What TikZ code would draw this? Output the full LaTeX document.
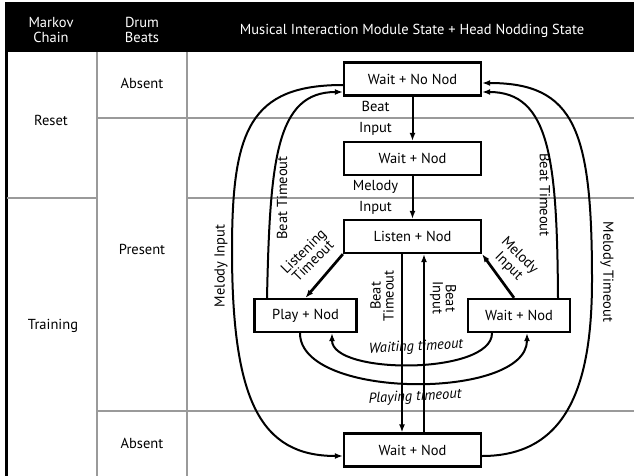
\documentclass[tikz,border=0pt]{standalone}
\usepackage{fontspec}
\setmainfont{PT Sans}
\usetikzlibrary{arrows.meta,calc}
\definecolor{rule}{HTML}{9A9A9A}
\tikzset{
  state/.style={draw, line width=2.3pt, fill=white, minimum height=33pt, inner sep=0pt},
  wide/.style={state, minimum width=137pt},
  narrow/.style={state, minimum width=102pt},
  trans/.style={-{Latex[length=8pt,width=6pt]}, line width=2pt},
  lbl/.style={align=center, inner sep=0pt},
  grid/.style={rule, line width=1.5pt}
}
\begin{document}
\begin{tikzpicture}[x=1pt,y=-1pt,font=\fontsize{14.5}{17.4}\selectfont]
  \useasboundingbox (0,0) rectangle (634,476);
  \fill (5,2) rectangle (634,52);
  \draw[line width=2.5pt] (6.5,52) -- (6.5,476);
  \draw[grid] (97,52) -- (97,476) (187,52) -- (187,476);
  \draw[grid] (97,118) -- (634,118) (7,198) -- (97,198) (187,198) -- (634,198)
    (97,411) -- (634,411);
  \node[lbl,text=white] (hchain) at (51,30) {Markov\\[-2.4pt]Chain};
  \node[lbl,text=white] (hbeats) at (142,30) {Drum\\[-2.4pt]Beats};
  \node[lbl,text=white] (hstate) at (412,31) {Musical Interaction Module State + Head Nodding State};
  \node[lbl] (reset) at (51,120) {Reset};
  \node[lbl] (training) at (53,326) {Training};
  \node[lbl] (absent1) at (142,83) {Absent};
  \node[lbl] (present) at (142,249) {Present};
  \node[lbl] (absent2) at (142,443) {Absent};

  \node[wide] (waitnn) at (412.5,79) {Wait + No Nod};
  \node[wide] (waitn) at (412.5,158.5) {Wait + Nod};
  \node[wide] (listen) at (412.5,236.5) {Listen + Nod};
  \node[narrow] (play) at (305.5,315.5) {Play + Nod};
  \node[narrow] (waitm) at (519,315.5) {Wait + Nod};
  \node[wide] (waitab) at (412.5,450) {Wait + Nod};

  \draw[trans] (waitnn) -- node[lbl,xshift=-37pt] (lbi) {Beat\\[3.6pt]Input} (waitn);
  \draw[trans] (waitn) -- node[lbl,xshift=-37pt] (lmi) {Melody\\[3.6pt]Input} (listen);
  \draw[trans,line width=2.7pt] (listen.south west) -- (play.north);
  \node[lbl,rotate=45] (llt) at (308,256) {Listening\\[-3.8pt]Timeout};
  \draw[trans,line width=2.7pt] ([xshift=-5pt]waitm.north) -- (listen.south east);
  \node[lbl,rotate=-45] (lmi2) at (514,261) {Melody\\[-2pt]Input};
  \draw[trans,line width=1.8pt] ([xshift=-10.5pt]listen.south) -- ([xshift=-10.5pt]waitab.north);
  \node[lbl,rotate=90] (lbt) at (382,296) {Beat\\[-4.4pt]Timeout};
  \draw[trans,line width=1.8pt] ([xshift=11.5pt]waitab.north) -- ([xshift=11.5pt]listen.south);
  \node[lbl,rotate=-90] (lbi2) at (443,298) {Beat\\[-4.4pt]Input};

  \draw[trans] ([xshift=-38.5pt]play.north) .. controls (270,160) and (276,92) .. ($(waitnn.west)+(0,13)$);
  \node[lbl,rotate=90] (lbtl) at (282,198) {Beat Timeout};
  \draw[trans] ([xshift=39pt]waitm.north) .. controls (557,160) and (550,92) .. ($(waitnn.east)+(0,13)$);
  \node[lbl,rotate=-90] (lbtr) at (545,195) {Beat Timeout};
  \draw[trans] ($(waitnn.west)+(0,6)$) .. controls (250,85) and (232,130) .. (232,250)
    .. controls (232,400) and (260,456) .. ($(waitab.west)+(0,6)$);
  \node[lbl,rotate=90] (lmil) at (221,266) {Melody Input};
  \draw[trans] ($(waitab.east)+(0,6)$) .. controls (570,456) and (592,380) .. (592,280)
    .. controls (592,130) and (575,83) .. ($(waitnn.east)+(0,4)$);
  \node[lbl,rotate=-90] (lmtr) at (607,272) {Melody Timeout};

  \draw[trans] ([xshift=-27pt]waitm.south) .. controls (492,375) and (332,375) .. ([xshift=26.5pt]play.south);
  \node[lbl,rotate=3] (lwt) at (416,347) {\itshape Waiting timeout};
  \draw[trans] ([xshift=-5.5pt]play.south) .. controls (300,400) and (527,400) .. ([xshift=8pt]waitm.south);
  \node[lbl,rotate=3] (lpt) at (415,397) {\itshape Playing timeout};
\end{tikzpicture}
\end{document}
